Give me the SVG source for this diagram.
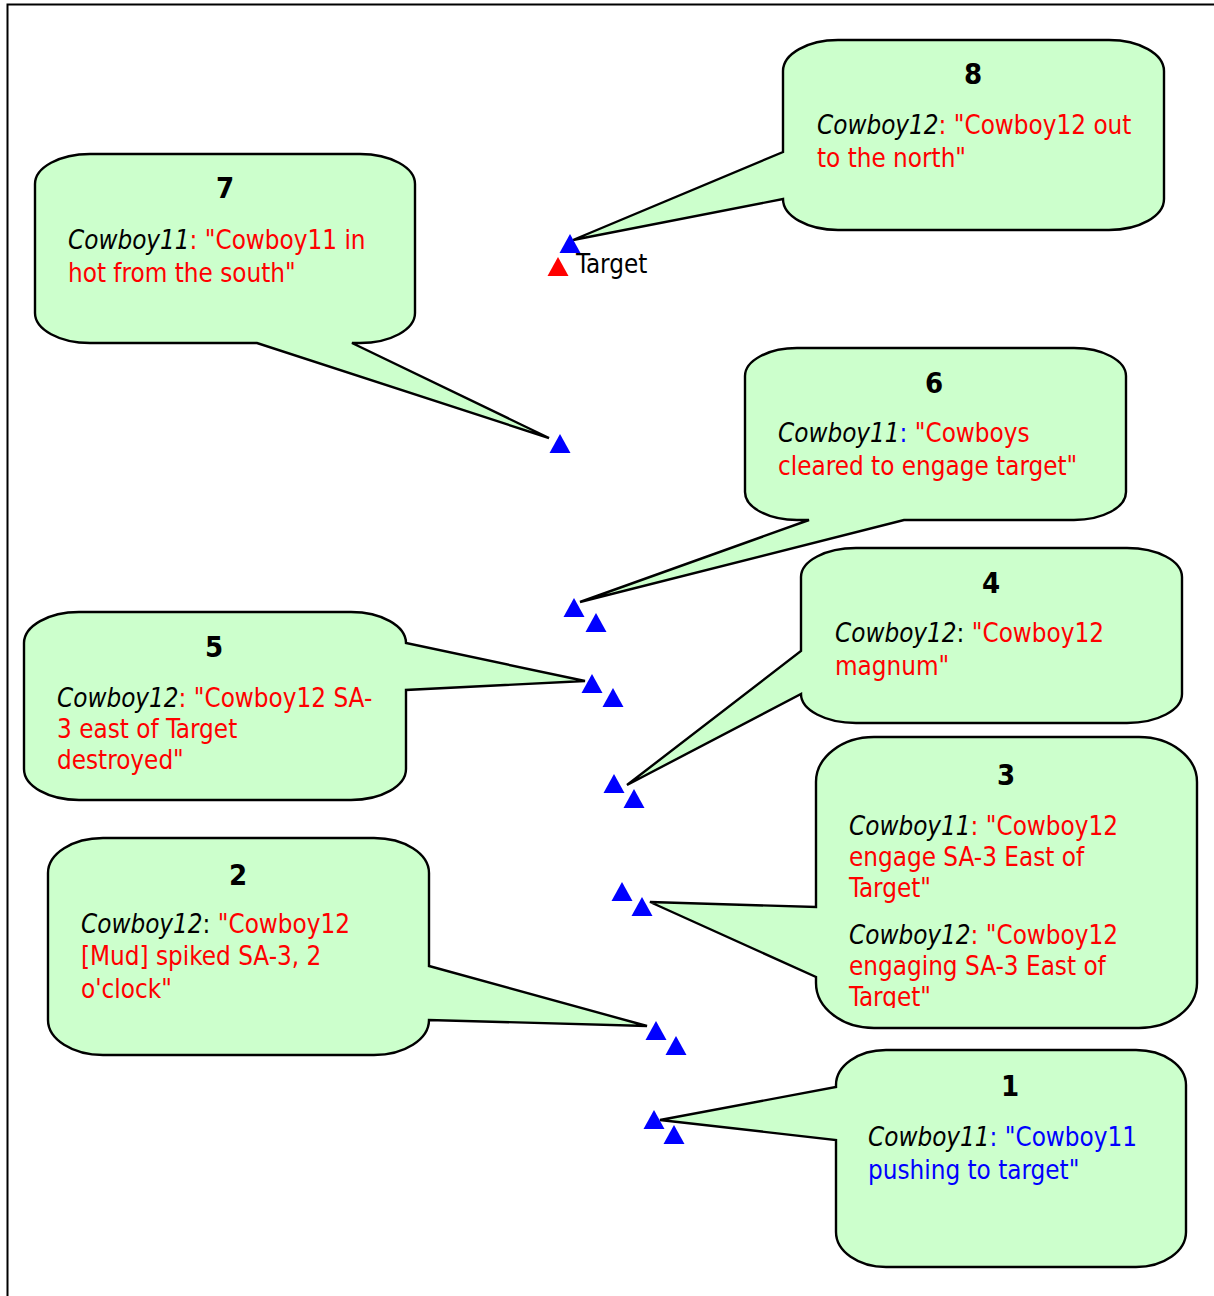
<svg xmlns="http://www.w3.org/2000/svg" xmlns:xlink="http://www.w3.org/1999/xlink" width="1214" height="1296" viewBox="0 0 1214 1296">
<style>
.bubble{fill:#ccffcc;stroke:#000;stroke-width:2.4;stroke-linejoin:miter}
text{font-family:"DejaVu Sans Condensed","DejaVu Sans",sans-serif;font-size:25.8px}
.num{font-weight:bold;font-size:29px;text-anchor:middle;fill:#000}
.who{font-style:italic;fill:#000}
.r{fill:#ff0000}
.b{fill:#0000ff}
.k{fill:#000}
.blue{fill:#0000ff}
.red{fill:#ff0000}
</style>
<defs>
<path id="tri" d="M0,0 L10.5,19 L-10.5,19 Z"/>
<clipPath id="clip3"><rect x="816" y="737" width="381" height="271"/></clipPath>
</defs>
<rect x="0" y="0" width="1214" height="1296" fill="#fff"/>
<path d="M7.5,1296 V4.5 H1214" fill="none" stroke="#000" stroke-width="2"/>

<g id="connectors"></g>

<g id="callout8">
<path class="bubble" d="M838,40 H1109 A55 31 0 0 1 1164 71 V199 A55 31 0 0 1 1109 230 H838 A55 31 0 0 1 783 199 L573 240 L783 152 V71 A55 31 0 0 1 838 40 Z"/>
<text class="num" x="973" y="84">8</text>
<text x="817" y="134"><tspan class="who">Cowboy12</tspan><tspan class="r">: "Cowboy12 out</tspan></text>
<text x="817" y="167" class="r">to the north"</text>
</g>

<g id="callout7">
<path class="bubble" d="M90,154 H360 A55 30 0 0 1 415 184 V313 A55 30 0 0 1 360 343 H352 L549 438 L257 343 H90 A55 30 0 0 1 35 313 V184 A55 30 0 0 1 90 154 Z"/>
<text class="num" x="225" y="198">7</text>
<text x="68" y="249"><tspan class="who">Cowboy11</tspan><tspan class="r">: "Cowboy11 in</tspan></text>
<text x="68" y="282" class="r">hot from the south"</text>
</g>

<g id="callout6">
<path class="bubble" d="M797,348 H1074 A52 28 0 0 1 1126 376 V492 A52 28 0 0 1 1074 520 H904 L580 602 L809 520 H797 A52 28 0 0 1 745 492 V376 A52 28 0 0 1 797 348 Z"/>
<text class="num" x="934" y="393">6</text>
<text x="778" y="442"><tspan class="who">Cowboy11</tspan><tspan class="b">:</tspan><tspan class="r"> "Cowboys</tspan></text>
<text x="778" y="475" class="r">cleared to engage target"</text>
</g>

<g id="callout5">
<path class="bubble" d="M79,612 H351 A55 31 0 0 1 406 643 L585 681 L406 690 V769 A55 31 0 0 1 351 800 H79 A55 31 0 0 1 24 769 V643 A55 31 0 0 1 79 612 Z"/>
<text class="num" x="214" y="657">5</text>
<text x="57" y="707"><tspan class="who">Cowboy12</tspan><tspan class="r">: "Cowboy12 SA-</tspan></text>
<text x="57" y="738" class="r">3 east of Target</text>
<text x="57" y="769" class="r">destroyed"</text>
</g>

<g id="callout4">
<path class="bubble" d="M856,548 H1127 A55 29 0 0 1 1182 577 V694 A55 29 0 0 1 1127 723 H856 A55 29 0 0 1 801 694 L627 785 L801 651 V577 A55 29 0 0 1 856 548 Z"/>
<text class="num" x="991" y="593">4</text>
<text x="835" y="642"><tspan class="who">Cowboy12</tspan><tspan class="k">:</tspan><tspan class="r"> "Cowboy12</tspan></text>
<text x="835" y="675" class="r">magnum"</text>
</g>

<g id="callout3">
<path class="bubble" d="M874,737 H1139 A58 45 0 0 1 1197 782 V983 A58 45 0 0 1 1139 1028 H874 A58 45 0 0 1 816 983 V977 L650 902 L816 907 V782 A58 45 0 0 1 874 737 Z"/>
<text class="num" x="1006" y="785">3</text>
<g clip-path="url(#clip3)">
<text x="849" y="835"><tspan class="who">Cowboy11</tspan><tspan class="r">: "Cowboy12</tspan></text>
<text x="849" y="866" class="r">engage SA-3 East of</text>
<text x="849" y="897" class="r">Target"</text>
<text x="849" y="944"><tspan class="who">Cowboy12</tspan><tspan class="r">: "Cowboy12</tspan></text>
<text x="849" y="975" class="r">engaging SA-3 East of</text>
<text x="849" y="1006" class="r">Target"</text>
</g>
</g>

<g id="callout2">
<path class="bubble" d="M103,838 H374 A55 35 0 0 1 429 873 V966 L647 1026 L429 1020 A55 35 0 0 1 374 1055 H103 A55 35 0 0 1 48 1020 V873 A55 35 0 0 1 103 838 Z"/>
<text class="num" x="238" y="885">2</text>
<text x="81" y="933"><tspan class="who">Cowboy12</tspan><tspan class="k">:</tspan><tspan class="r"> "Cowboy12</tspan></text>
<text x="81" y="965" class="r">[Mud] spiked SA-3, 2</text>
<text x="81" y="998" class="r">o'clock"</text>
</g>

<g id="callout1">
<path class="bubble" d="M886,1050 H1136 A50 35 0 0 1 1186 1085 V1232 A50 35 0 0 1 1136 1267 H886 A50 35 0 0 1 836 1232 V1140 L660 1120 L836 1087 V1085 A50 35 0 0 1 886 1050 Z"/>
<text class="num" x="1010" y="1096">1</text>
<text x="868" y="1146"><tspan class="who">Cowboy11</tspan><tspan class="b">: "Cowboy11</tspan></text>
<text x="868" y="1179" class="b">pushing to target"</text>
</g>

<g id="markers">
<use xlink:href="#tri" x="558" y="257" class="red"/>
<use xlink:href="#tri" x="570" y="234" class="blue"/>
<use xlink:href="#tri" x="560" y="434" class="blue"/>
<use xlink:href="#tri" x="574" y="598" class="blue"/>
<use xlink:href="#tri" x="596" y="613" class="blue"/>
<use xlink:href="#tri" x="592" y="674" class="blue"/>
<use xlink:href="#tri" x="613" y="688" class="blue"/>
<use xlink:href="#tri" x="614" y="774" class="blue"/>
<use xlink:href="#tri" x="634" y="789" class="blue"/>
<use xlink:href="#tri" x="622" y="882" class="blue"/>
<use xlink:href="#tri" x="642" y="897" class="blue"/>
<use xlink:href="#tri" x="656" y="1021" class="blue"/>
<use xlink:href="#tri" x="676" y="1036" class="blue"/>
<use xlink:href="#tri" x="654" y="1110" class="blue"/>
<use xlink:href="#tri" x="674" y="1125" class="blue"/>
</g>
<g id="target-label"><text x="576" y="273" class="k">Target</text></g>
</svg>
